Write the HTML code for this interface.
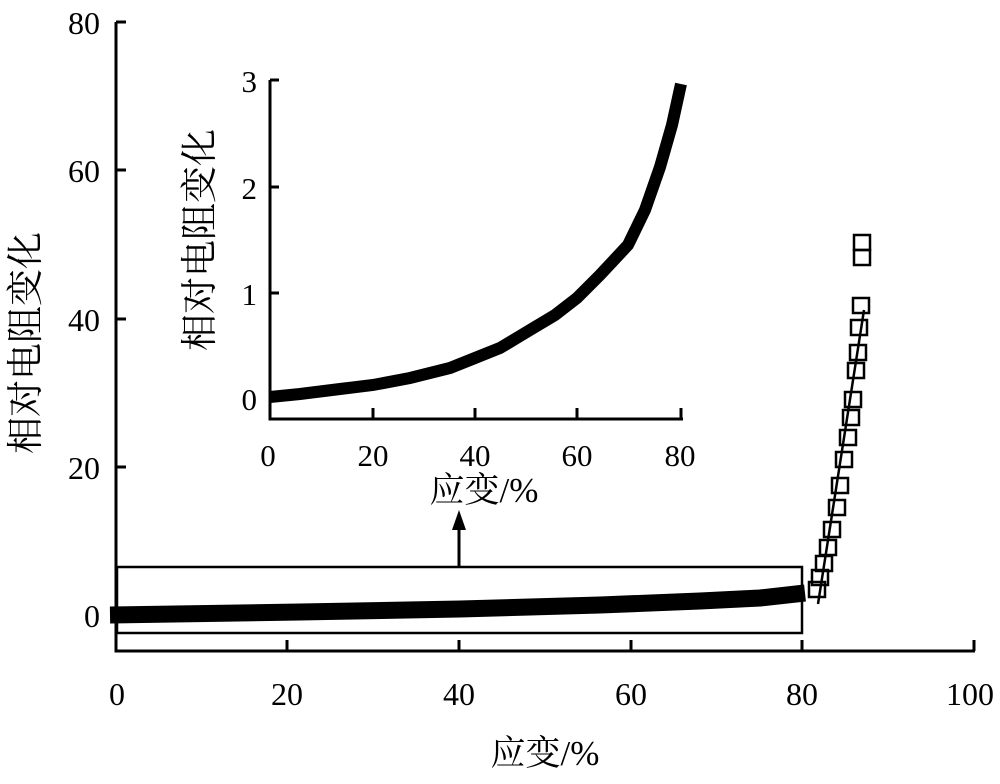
<!DOCTYPE html>
<html><head><meta charset="utf-8"><style>
body{margin:0;background:#fff;}
text{font-family:"Liberation Serif","Noto Serif CJK SC","Noto Sans CJK SC",serif;fill:#000;}
</style></head><body>
<svg width="1000" height="779" viewBox="0 0 1000 779" xmlns="http://www.w3.org/2000/svg">
<g stroke="#000" stroke-width="3" fill="none">
<polyline points="116,22 116,651 975,651"/>
<line x1="287" y1="651" x2="287" y2="640"/>
<line x1="459" y1="651" x2="459" y2="640"/>
<line x1="631" y1="651" x2="631" y2="640"/>
<line x1="802" y1="651" x2="802" y2="640"/>
<line x1="974" y1="651" x2="974" y2="640"/>
<line x1="116" y1="22" x2="126" y2="22"/>
<line x1="116" y1="170" x2="126" y2="170"/>
<line x1="116" y1="319" x2="126" y2="319"/>
<line x1="116" y1="467" x2="126" y2="467"/>
<rect x="117" y="567" width="685" height="66" stroke-width="2.5"/>
<line x1="459" y1="567" x2="459" y2="528"/>
</g>
<polygon points="459,510 452,530 466,530" fill="#000"/>
<path d="M110,615 L300,612 L460,609 L600,605 L700,601 L760,598 L805,593" stroke="#000" stroke-width="17" fill="none"/>
<line x1="818" y1="604" x2="864" y2="310" stroke="#000" stroke-width="2.5"/>
<g stroke="#000" stroke-width="2.5" fill="none">
<rect x="854" y="235" width="16" height="15"/><rect x="854" y="250" width="16" height="15"/>
<rect x="853" y="298" width="16" height="15"/><rect x="851" y="320" width="16" height="15"/>
<rect x="850" y="345" width="16" height="15"/><rect x="848" y="363" width="16" height="15"/>
<rect x="845" y="392" width="16" height="15"/><rect x="843" y="410" width="16" height="15"/>
<rect x="840" y="430" width="16" height="15"/><rect x="836" y="452" width="16" height="15"/>
<rect x="832" y="478" width="16" height="15"/><rect x="829" y="500" width="16" height="15"/>
<rect x="824" y="522" width="16" height="15"/><rect x="820" y="540" width="16" height="15"/>
<rect x="816" y="556" width="16" height="15"/><rect x="812" y="570" width="16" height="15"/>
<rect x="809" y="582" width="16" height="15"/>
</g>
<g font-size="32" text-anchor="middle">
<text x="117" y="705">0</text><text x="287" y="705">20</text><text x="459" y="705">40</text>
<text x="631" y="705">60</text><text x="802" y="705">80</text><text x="970" y="705">100</text>
</g>
<g font-size="32" text-anchor="end">
<text x="100" y="34">80</text><text x="100" y="182">60</text><text x="100" y="331">40</text>
<text x="100" y="479">20</text><text x="100" y="627">0</text>
</g>
<text x="545" y="765" font-size="35" text-anchor="middle">应变/%</text>
<text transform="translate(38,343) rotate(-90)" font-size="37" text-anchor="middle">相对电阻变化</text>
<g stroke="#000" stroke-width="3" fill="none">
<polyline points="270,80 270,419 683,419"/>
<line x1="373" y1="419" x2="373" y2="408"/><line x1="475" y1="419" x2="475" y2="408"/>
<line x1="577" y1="419" x2="577" y2="408"/><line x1="681" y1="419" x2="681" y2="408"/>
<line x1="270" y1="80" x2="279" y2="80"/><line x1="270" y1="187" x2="279" y2="187"/>
<line x1="270" y1="293" x2="279" y2="293"/>
</g>
<path d="M270,397 L300,394 L340,389 L373,385 L410,378 L450,368 L475,358 L500,348 L530,330 L555,315 L577,298 L600,275 L628,245 L645,210 L660,167 L672,125 L681,84" stroke="#000" stroke-width="12" fill="none"/>
<g font-size="31" text-anchor="middle">
<text x="268" y="466">0</text><text x="373" y="466">20</text><text x="475" y="466">40</text>
<text x="577" y="466">60</text><text x="680" y="466">80</text>
</g>
<g font-size="31" text-anchor="end">
<text x="257" y="92">3</text><text x="257" y="199">2</text><text x="257" y="305">1</text><text x="257" y="410">0</text>
</g>
<text x="484" y="502" font-size="35" text-anchor="middle">应变/%</text>
<text transform="translate(212,240) rotate(-90)" font-size="37" text-anchor="middle">相对电阻变化</text>
</svg>
</body></html>
